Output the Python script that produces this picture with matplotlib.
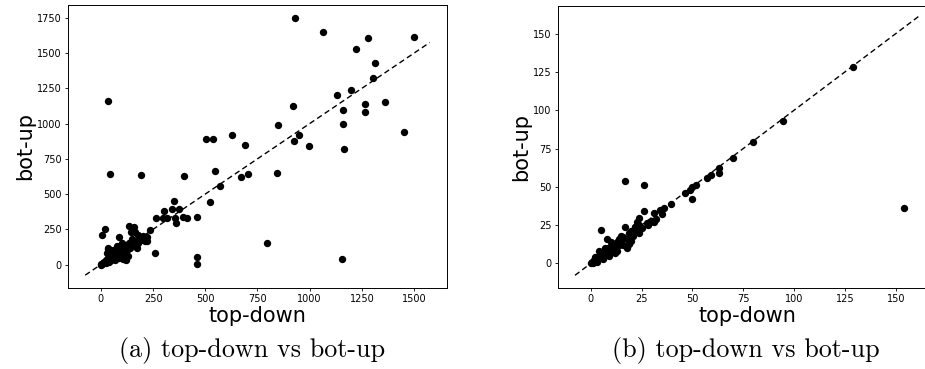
import matplotlib
matplotlib.use("Agg")
import matplotlib.pyplot as plt

# (a) top-down vs bot-up, large scale
a_top_down = [932, 1065, 1280, 1500, 1220, 1312, 1301, 1199, 1132, 1360, 1264, 1264, 1162, 1162,
              1165, 1451, 920, 926, 947, 996, 850, 845, 797, 1153, 627, 692, 703, 670, 571, 547,
              505, 536, 521, 459, 459, 462, 399, 194, 46, 33, 6, 19, 261, 236, 263, 300, 297, 316,
              341, 351, 357, 362, 375, 392, 413, 222, 220, 201, 137, 158, 164, 143, 89, 180,
              0, 2, 5, 8, 12, 15, 20, 25, 30, 35, 40, 45, 50, 55, 60, 65, 70, 75, 80, 85, 90, 95,
              100, 105, 110, 115, 120, 125, 130, 135, 140, 150, 160, 170, 180, 190, 200, 210,
              35, 45, 30, 60, 75, 100, 110, 120, 50, 70, 25, 40, 150, 175, 130, 85, 95, 32, 116, 108]
a_bot_up = [1750, 1650, 1608, 1615, 1530, 1430, 1323, 1235, 1200, 1152, 1138, 1081, 1098, 998,
            820, 937, 1122, 875, 922, 842, 989, 647, 154, 40, 922, 851, 643, 619, 560, 666,
            894, 894, 443, 337, 55, 7, 631, 636, 645, 1162, 211, 249, 83, 244, 327, 382, 327, 327,
            391, 448, 327, 292, 394, 334, 330, 192, 168, 201, 277, 268, 232, 232, 192, 213,
            0, 5, 2, 12, 8, 20, 15, 30, 22, 45, 35, 55, 40, 70, 50, 80, 60, 90, 70, 100, 75, 110,
            85, 120, 95, 130, 100, 140, 110, 150, 120, 160, 140, 165, 150, 175, 185, 170,
            110, 95, 85, 100, 130, 150, 40, 35, 30, 35, 10, 20, 180, 120, 60, 45, 55, 114, 130, 43]

# (b) top-down vs bot-up, small scale
b_top_down = [154, 129, 94.5, 80, 70, 63, 63, 59, 57, 52, 50, 50, 49, 46.5, 39.6, 36, 34, 35, 31,
              31, 26, 17, 26, 5, 17, 27.6, 24, 23, 22, 18, 20, 13, 8, 15, 15,
              0, 0.5, 1, 1.5, 2, 2.5, 3, 3.5, 4, 4.5, 5, 5.5, 6, 6.5, 7, 7.5, 8, 8.5, 9, 9.5,
              10, 11, 12, 13, 14, 16, 18, 19, 20, 21, 22, 23, 24, 25, 28, 29, 30, 32,
              4, 6, 7, 9, 11, 12, 14, 16, 19, 21, 24, 3, 2, 10]
b_bot_up = [36, 128, 93, 79, 69, 59, 62, 58, 56, 51, 50, 42, 48, 46, 39, 36, 35, 32, 33,
            27, 51, 54, 34, 22, 24, 26.5, 30, 27, 24, 10, 15, 8, 16, 18, 15,
            0, 1, 0.5, 2, 1.5, 3, 2.5, 4, 3.5, 6, 4, 7, 5, 8, 6, 9, 7, 10, 8, 11,
            9, 12, 10, 14, 12, 17, 16, 20, 21, 19, 24, 22, 25, 23, 25, 27, 28, 29,
            8, 3, 10, 5, 13, 7, 16, 12, 13, 18, 20, 1, 4, 14]

fig = plt.figure(figsize=(9.25, 3.69), dpi=100)
ax1 = fig.add_axes([0.0735, 0.2195, 0.4097, 0.767])
ax2 = fig.add_axes([0.603, 0.2195, 0.4097, 0.764])

for ax, xs, ys in [(ax1, a_top_down, a_bot_up), (ax2, b_top_down, b_bot_up)]:
    ax.scatter(xs, ys, s=28, color="black", linewidths=0, zorder=2)
    lo, hi = ax.get_xlim()
    ax.plot([lo, hi], [lo, hi], linestyle="--", color="black", linewidth=1.0, dashes=(4, 2.5), zorder=3)
    ax.set_xlabel("top-down", fontsize=15, labelpad=1)
    ax.set_ylabel("bot-up", fontsize=15, labelpad=1)
    ax.tick_params(labelsize=7, length=2.5, width=0.6, pad=2)
    for sp in ax.spines.values():
        sp.set_linewidth(0.7)

ax1.set_xticks([0, 250, 500, 750, 1000, 1250, 1500])
ax1.set_yticks([0, 250, 500, 750, 1000, 1250, 1500, 1750])
ax2.set_xticks([0, 25, 50, 75, 100, 125, 150])
ax2.set_yticks([0, 25, 50, 75, 100, 125, 150])
ax2.set_ylim(-16, 168)

fig.text(252 / 925, 1 - 350 / 369, "(a) top-down vs bot-up", family="cmr10", fontsize=18.8,
         ha="center", va="center")
fig.text(746 / 925, 1 - 350 / 369, "(b) top-down vs bot-up", family="cmr10", fontsize=18.8,
         ha="center", va="center")

fig.savefig("out.png", dpi=100)
